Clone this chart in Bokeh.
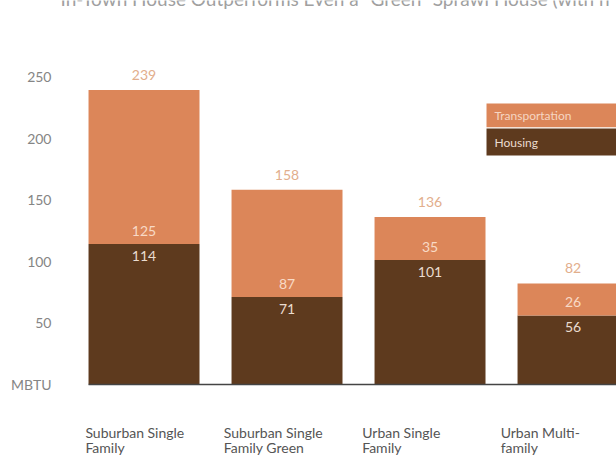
from bokeh.plotting import figure
from bokeh.models import Range1d, FixedTicker, ColumnDataSource, BoxAnnotation
from bokeh.core.properties import value
from bokeh.embed import file_html
from bokeh.resources import INLINE

categories = ["Suburban Single\nFamily", "Suburban Single\nFamily Green", "Urban Single\nFamily", "Urban Multi-\nfamily"]
housing = [114, 71, 101, 56]
transportation = [125, 87, 35, 26]
y_ticks = [0, 50, 100, 150, 200, 250]
y_unit_label = "MBTU"
series_names = ["Transportation", "Housing"]
title_text = "In-Town House Outperforms Even a \u201cGreen\u201d Sprawl House (with h"

ORANGE = "#DC8659"
BROWN = "#5E3A1E"
FONT = value("Lato")

xs = list(range(len(categories)))
totals = [h + t for h, t in zip(housing, transportation)]
BAR_W = 0.776

src = ColumnDataSource(dict(
    x=xs, housing=housing, transport=transportation, total=totals,
    housing_txt=[str(v) for v in housing],
    transport_txt=[str(v) for v in transportation],
    total_txt=[str(v) for v in totals],
    label_x=[x - 0.41 - 0.032 * x for x in xs],
    cat=categories,
))

p = figure(width=616, height=457, output_backend="svg", toolbar_location=None,
           x_range=Range1d(-0.584, 3.304), y_range=Range1d(-59.3, 311.7),
           min_border_left=60, min_border_right=0, min_border_top=0, min_border_bottom=0)
p.outline_line_color = None
p.xgrid.visible = False
p.ygrid.visible = False
p.xaxis.visible = False
p.background_fill_color = "white"
p.border_fill_color = "white"

yax = p.yaxis[0]
yax.ticker = FixedTicker(ticks=y_ticks)
yax.major_label_overrides = {0: y_unit_label}
yax.axis_line_color = None
yax.major_tick_line_color = None
yax.minor_tick_line_color = None
yax.major_label_text_color = "#858585"
yax.major_label_text_font = "Lato"
yax.major_label_text_font_size = "14px"
yax.major_label_standoff = 3

# bars
p.vbar(x="x", top="housing", bottom=0, width=BAR_W, source=src, fill_color=BROWN, line_color=None)
p.vbar(x="x", top="total", bottom="housing", width=BAR_W, source=src, fill_color=ORANGE, line_color=None)

# baseline
p.segment(x0=[xs[0] - BAR_W / 2], y0=[0], x1=[xs[-1] + BAR_W / 2], y1=[0], line_color="#444444", line_width=1.5)

# value labels
p.text(x="x", y="total", text="total_txt", source=src, text_align="center", text_baseline="bottom",
       y_offset=-10, text_font=FONT, text_font_size="14px", text_color="#E2AE8C")
p.text(x="x", y="housing", text="transport_txt", source=src, text_align="center", text_baseline="bottom",
       y_offset=-8, text_font=FONT, text_font_size="14px", text_color="#F8DAC6")
p.text(x="x", y="housing", text="housing_txt", source=src, text_align="center", text_baseline="top",
       y_offset=7, text_font=FONT, text_font_size="14px", text_color="#EADCD0")

# category labels
p.text(x="label_x", y=0, text="cat", source=src, text_align="left", text_baseline="top",
       y_offset=40, text_font=FONT, text_font_size="14px", text_color="#555555", text_line_height=0.85)

# legend (color bands with text)
p.add_layout(BoxAnnotation(left=2.395, bottom=208.9, top=228.1, fill_color=ORANGE, fill_alpha=1,
                           line_color=None, level="underlay"))
p.add_layout(BoxAnnotation(left=2.395, bottom=185.9, top=207.7, fill_color=BROWN, fill_alpha=1,
                           line_color=None, level="underlay"))
p.text(x=[2.395, 2.395], y=[218.5, 196.8], text=series_names, text_align="left", text_baseline="middle",
       x_offset=8, text_font=FONT, text_font_size="12px", text_color=["#F6D6C2", "#EBDCCF"])

# partially visible title at top (cut off as in the reference)
p.text(x=[-0.584], y=[311.7], text=[title_text], text_align="left", text_baseline="alphabetic",
       y_offset=-2, text_font=FONT, text_font_size="19px", text_color="#a0a0a0")

open("out.html", "w").write(file_html(p, INLINE))
